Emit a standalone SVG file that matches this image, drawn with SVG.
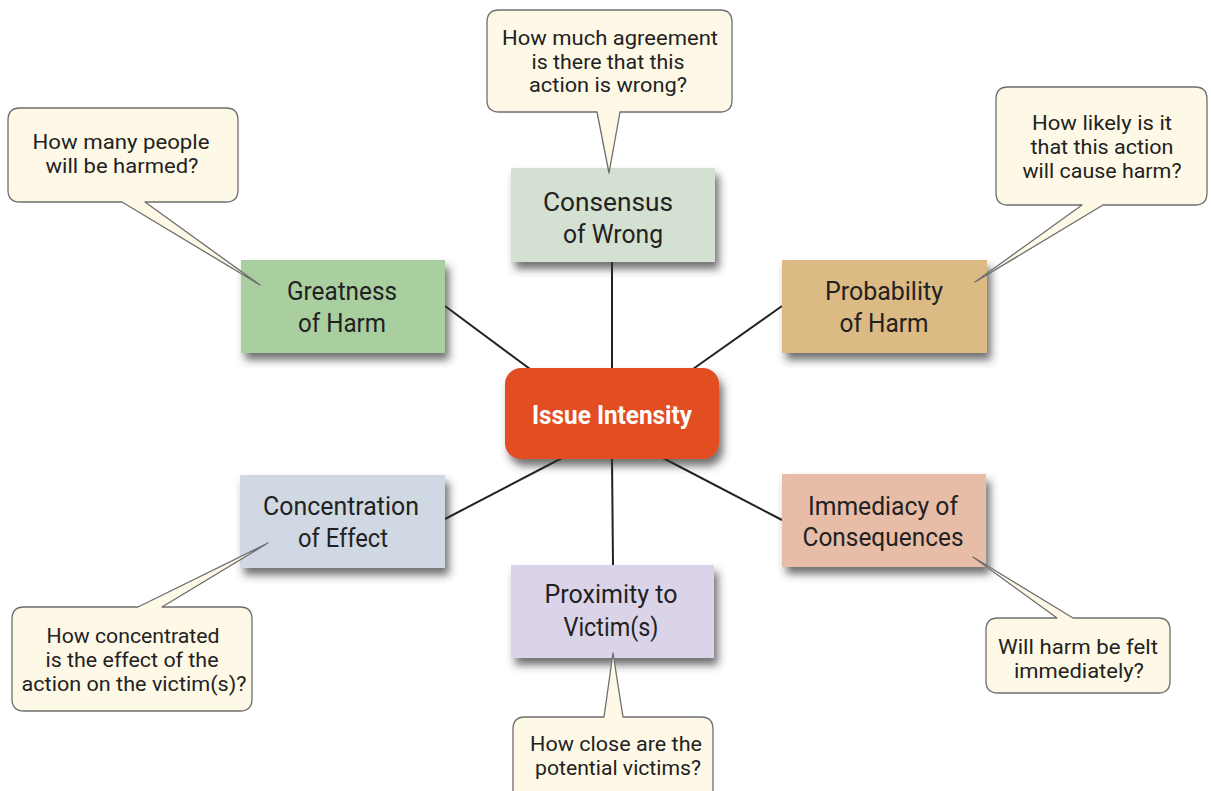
<svg xmlns="http://www.w3.org/2000/svg" width="1211" height="791" viewBox="0 0 1211 791">
<style>
.box{stroke:none;filter:url(#sh)}
.lbl{font-family:Roboto,"Liberation Sans",sans-serif;font-size:25px;fill:#222;text-anchor:middle}
.ctr{font-family:Roboto,"Liberation Sans",sans-serif;font-size:25px;font-weight:bold;fill:#fff;text-anchor:middle}
.co{fill:#fef8e6;stroke:#6e6e6e;stroke-width:1.3;stroke-linejoin:round}
.ct{font-family:Roboto,"Liberation Sans",sans-serif;font-size:20.5px;fill:#222;text-anchor:middle}
.cn{stroke:#222;stroke-width:2;fill:none}
</style>
<defs>
<filter id="sh" x="-20%" y="-20%" width="150%" height="160%">
<feDropShadow dx="4" dy="7" stdDeviation="4" flood-color="#333" flood-opacity="0.7"/>
</filter>
</defs>
<rect width="1211" height="791" fill="#fff"/>
<g id="connectors">
<line class="cn" x1="445" y1="306" x2="530" y2="369"/>
<line class="cn" x1="612" y1="262" x2="612" y2="369"/>
<line class="cn" x1="782" y1="306" x2="693" y2="369"/>
<line class="cn" x1="445" y1="519" x2="562" y2="458"/>
<line class="cn" x1="782" y1="520" x2="663" y2="458"/>
<line class="cn" x1="612" y1="458" x2="613" y2="565"/>
</g>
<g id="greatness">
<rect class="box" x="241" y="260" width="204" height="93" fill="#a9cfa1"/>
<text class="lbl" x="342" y="300" textLength="110" lengthAdjust="spacingAndGlyphs">Greatness</text>
<text class="lbl" x="342" y="332" textLength="88" lengthAdjust="spacingAndGlyphs">of Harm</text>
</g>
<g id="consensus">
<rect class="box" x="511" y="168" width="204" height="94" fill="#d4e0d2"/>
<text class="lbl" x="608" y="211" textLength="130" lengthAdjust="spacingAndGlyphs">Consensus</text>
<text class="lbl" x="613" y="243" textLength="100" lengthAdjust="spacingAndGlyphs">of Wrong</text>
</g>
<g id="probability">
<rect class="box" x="782" y="260" width="205" height="93" fill="#dbba83"/>
<text class="lbl" x="884" y="300" textLength="118" lengthAdjust="spacingAndGlyphs">Probability</text>
<text class="lbl" x="884" y="332" textLength="89" lengthAdjust="spacingAndGlyphs">of Harm</text>
</g>
<g id="issue-intensity">
<rect class="box" x="505" y="368" width="214" height="91" rx="16" fill="#e34d22"/>
<text class="ctr" x="612" y="424" textLength="160" lengthAdjust="spacingAndGlyphs">Issue Intensity</text>
</g>
<g id="concentration">
<rect class="box" x="240" y="475" width="205" height="93" fill="#cfd8e3"/>
<text class="lbl" x="341" y="515" textLength="156" lengthAdjust="spacingAndGlyphs">Concentration</text>
<text class="lbl" x="343" y="547" textLength="90" lengthAdjust="spacingAndGlyphs">of Effect</text>
</g>
<g id="immediacy">
<rect class="box" x="782" y="474" width="204" height="93" fill="#e7bda7"/>
<text class="lbl" x="883" y="515" textLength="150" lengthAdjust="spacingAndGlyphs">Immediacy of</text>
<text class="lbl" x="883" y="546" textLength="161" lengthAdjust="spacingAndGlyphs">Consequences</text>
</g>
<g id="proximity">
<rect class="box" x="511" y="565" width="203" height="93" fill="#dbd4e8"/>
<text class="lbl" x="611" y="603" textLength="133" lengthAdjust="spacingAndGlyphs">Proximity to</text>
<text class="lbl" x="611" y="636" textLength="95" lengthAdjust="spacingAndGlyphs">Victim(s)</text>
</g>
<g id="callout-greatness">
<path class="co" d="M20,108 H226 Q238,108 238,120 V190 Q238,202 226,202 H145 L260,285 L122,202 H20 Q8,202 8,190 V120 Q8,108 20,108 Z"/>
<text class="ct" x="121" y="149" textLength="177" lengthAdjust="spacingAndGlyphs">How many people</text>
<text class="ct" x="122" y="172.5" textLength="153" lengthAdjust="spacingAndGlyphs">will be harmed?</text>
</g>
<g id="callout-consensus">
<path class="co" d="M499,10 H720 Q732,10 732,22 V100 Q732,112 720,112 H620 L609,173 L597,112 H499 Q487,112 487,100 V22 Q487,10 499,10 Z"/>
<text class="ct" x="610" y="45" textLength="216" lengthAdjust="spacingAndGlyphs">How much agreement</text>
<text class="ct" x="608" y="68.5" textLength="153" lengthAdjust="spacingAndGlyphs">is there that this</text>
<text class="ct" x="608" y="92" textLength="158" lengthAdjust="spacingAndGlyphs">action is wrong?</text>
</g>
<g id="callout-probability">
<path class="co" d="M1008,87 H1195 Q1207,87 1207,99 V193 Q1207,205 1195,205 H1103 L975,282 L1082,205 H1008 Q996,205 996,193 V99 Q996,87 1008,87 Z"/>
<text class="ct" x="1102" y="130" textLength="140" lengthAdjust="spacingAndGlyphs">How likely is it</text>
<text class="ct" x="1102" y="154" textLength="143" lengthAdjust="spacingAndGlyphs">that this action</text>
<text class="ct" x="1102" y="178" textLength="159" lengthAdjust="spacingAndGlyphs">will cause harm?</text>
</g>
<g id="callout-concentration">
<path class="co" d="M24,607 H138 L268,543 L162,607 H240 Q252,607 252,619 V699 Q252,711 240,711 H24 Q12,711 12,699 V619 Q12,607 24,607 Z"/>
<text class="ct" x="133" y="643" textLength="173" lengthAdjust="spacingAndGlyphs">How concentrated</text>
<text class="ct" x="132" y="667" textLength="173" lengthAdjust="spacingAndGlyphs">is the effect of the</text>
<text class="ct" x="134" y="690.5" textLength="225" lengthAdjust="spacingAndGlyphs">action on the victim(s)?</text>
</g>
<g id="callout-immediacy">
<path class="co" d="M998,618 H1057 L973,557 L1073,618 H1158 Q1170,618 1170,630 V681 Q1170,693 1158,693 H998 Q986,693 986,681 V630 Q986,618 998,618 Z"/>
<text class="ct" x="1078" y="654" textLength="160" lengthAdjust="spacingAndGlyphs">Will harm be felt</text>
<text class="ct" x="1079" y="677.5" textLength="130" lengthAdjust="spacingAndGlyphs">immediately?</text>
</g>
<g id="callout-proximity">
<path class="co" d="M525,717 H604 L613,653 L623,717 H701 Q713,717 713,729 V800 H513 V729 Q513,717 525,717 Z"/>
<text class="ct" x="616" y="751" textLength="172" lengthAdjust="spacingAndGlyphs">How close are the</text>
<text class="ct" x="618" y="774.5" textLength="166" lengthAdjust="spacingAndGlyphs">potential victims?</text>
</g>
</svg>
